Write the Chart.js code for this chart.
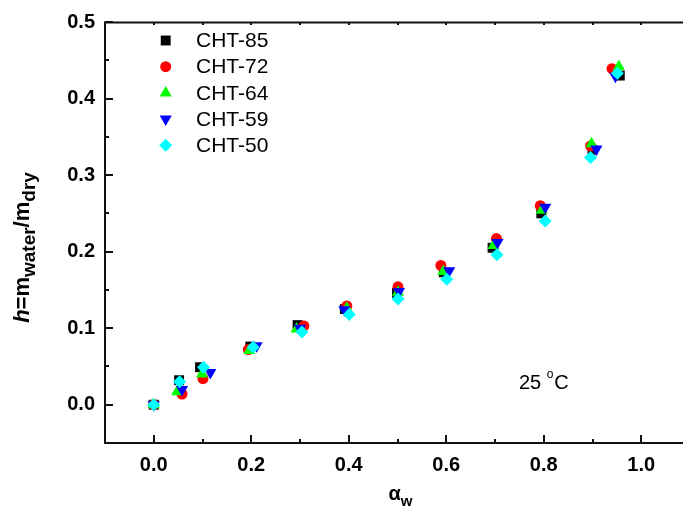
<!DOCTYPE html>
<html>
<head>
<meta charset="utf-8">
<script src="https://cdn.jsdelivr.net/npm/chart.js@4.4.0/dist/chart.umd.min.js"></script>
<style>
html, body { margin: 0; padding: 0; background: #fff; overflow: hidden; }
#wrap { width: 683px; height: 512px; overflow: hidden; }
</style>
</head>
<body>
<div id="wrap"><canvas id="chart" width="700" height="512"></canvas></div>
<script>
// water activity (x) and water uptake h (y)
const aw85 = [0, 0.052, 0.095, 0.198, 0.295, 0.392, 0.499, 0.595, 0.695, 0.795, 0.900, 0.956];
const h85  = [0, 0.032, 0.049, 0.076, 0.104, 0.125, 0.146, 0.173, 0.205, 0.250, 0.333, 0.430];
const aw72 = [0, 0.058, 0.101, 0.194, 0.308, 0.396, 0.501, 0.589, 0.703, 0.793, 0.896, 0.940];
const h72  = [0, 0.014, 0.034, 0.072, 0.103, 0.129, 0.154, 0.182, 0.217, 0.260, 0.338, 0.439];
const aw64 = [0, 0.048, 0.099, 0.196, 0.293, 0.396, 0.501, 0.594, 0.697, 0.796, 0.898, 0.954];
const h64  = [0, 0.017, 0.040, 0.071, 0.099, 0.126, 0.147, 0.174, 0.208, 0.254, 0.341, 0.442];
const aw59 = [0, 0.058, 0.116, 0.211, 0.300, 0.391, 0.503, 0.606, 0.705, 0.803, 0.908, 0.947];
const h59  = [0, 0.020, 0.042, 0.077, 0.100, 0.124, 0.148, 0.175, 0.212, 0.258, 0.334, 0.429];
const aw50 = [0, 0.053, 0.102, 0.204, 0.304, 0.401, 0.501, 0.601, 0.704, 0.803, 0.896, 0.951];
const h50  = [0, 0.030, 0.049, 0.075, 0.095, 0.118, 0.138, 0.164, 0.196, 0.240, 0.323, 0.433];

const labels = ['CHT-85', 'CHT-72', 'CHT-64', 'CHT-59', 'CHT-50'];
const xRange = [-0.1, 1.1];
const yRange = [-0.05, 0.5];
const tempNote = { x: 0.749, y: 0.020 };

const FONT = '"Liberation Sans", Arial, sans-serif';

const series = [
    { label: labels[0], xs: aw85, ys: h85, style: 'rect', rot: 0, r: 7, color: '#000000' },
    { label: labels[1], xs: aw72, ys: h72, style: 'circle', rot: 0, r: 5.5, color: '#ff0000' },
    { label: labels[2], xs: aw64, ys: h64, style: 'triangle', rot: 0, r: 7, color: '#00ff00' },
    { label: labels[3], xs: aw59, ys: h59, style: 'triangle', rot: 180, r: 7, color: '#0000ff' },
    { label: labels[4], xs: aw50, ys: h50, style: 'rectRot', rot: 0, r: 6.5, color: '#00ffff' }
];

function drawMarker(ctx, s, x, y) {
    ctx.fillStyle = s.color;
    Chart.helpers.drawPoint(ctx, { pointStyle: s.style, rotation: s.rot, radius: s.r, borderWidth: 0 }, x, y);
}

// box, inward ticks
const framePlugin = {
    id: 'frame',
    beforeDatasetsDraw(chart) {
        const { ctx, chartArea: a, scales } = chart;
        ctx.save();
        ctx.strokeStyle = '#111';
        ctx.lineWidth = 2;
        ctx.strokeRect(a.left, a.top + 0.5, a.right - a.left, a.bottom - a.top - 0.5);
        ctx.beginPath();
        scales.y.ticks.forEach(t => {
            const k = Math.round(t.value * 100);
            const len = k % 10 === 0 ? 8 : 4;
            const py = Math.round(scales.y.getPixelForValue(t.value));
            ctx.moveTo(a.left, py);
            ctx.lineTo(a.left + len, py);
        });
        scales.x.ticks.forEach(t => {
            const k = Math.round(t.value * 10);
            const len = k % 2 === 0 ? 8 : 4;
            const px = Math.round(scales.x.getPixelForValue(t.value));
            ctx.moveTo(px, a.bottom);
            ctx.lineTo(px, a.bottom - len);
            ctx.moveTo(px, a.top);
            ctx.lineTo(px, a.top + 3);
        });
        ctx.stroke();
        ctx.restore();
    }
};

// legend, titles and the temperature note
const textPlugin = {
    id: 'texts',
    afterDraw(chart) {
        const { ctx, chartArea: a, scales } = chart;
        ctx.save();

        // legend
        series.forEach((s, i) => {
            const y = a.top + 18.5 + i * 26.2;
            drawMarker(ctx, s, a.left + 60.7, y);
            ctx.fillStyle = '#000';
            ctx.font = '21px ' + FONT;
            ctx.textBaseline = 'middle';
            ctx.textAlign = 'left';
            ctx.fillText(s.label, a.left + 91, y + 1);
        });

        // 25 °C
        const nx = scales.x.getPixelForValue(tempNote.x);
        const ny = scales.y.getPixelForValue(tempNote.y);
        ctx.textBaseline = 'alphabetic';
        ctx.font = '20px ' + FONT;
        ctx.fillText('25', nx, ny);
        let w = ctx.measureText('25 ').width;
        ctx.font = '12px ' + FONT;
        ctx.fillText('o', nx + w, ny - 11);
        w += ctx.measureText('o').width + 1;
        ctx.font = '20px ' + FONT;
        ctx.fillText('C', nx + w, ny);

        // x title: alpha_w
        const cx = (scales.x.getPixelForValue(0) + scales.x.getPixelForValue(1)) / 2 + 3;
        ctx.font = 'bold 20px ' + FONT;
        const aW = ctx.measureText('\u03b1').width;
        ctx.font = 'bold 15px ' + FONT;
        const wW = ctx.measureText('w').width;
        let sx = cx - (aW + wW) / 2;
        ctx.font = 'bold 20px ' + FONT;
        ctx.fillText('\u03b1', sx, 500);
        ctx.font = 'bold 15px ' + FONT;
        ctx.fillText('w', sx + aW, 506);

        // y title: h = m_water / m_dry
        const parts = [
            { t: 'h', f: 'italic bold 22px ' + FONT, dy: 0 },
            { t: '=m', f: 'bold 22px ' + FONT, dy: 0 },
            { t: 'water', f: 'bold 19px ' + FONT, dy: 6 },
            { t: '/m', f: 'bold 22px ' + FONT, dy: 0 },
            { t: 'dry', f: 'bold 19px ' + FONT, dy: 6 }
        ];
        let total = 0;
        parts.forEach(p => { ctx.font = p.f; p.w = ctx.measureText(p.t).width; total += p.w; });
        ctx.translate(28.5, 247.5);
        ctx.rotate(-Math.PI / 2);
        let px = -total / 2;
        parts.forEach(p => {
            ctx.font = p.f;
            ctx.fillText(p.t, px, p.dy);
            px += p.w;
        });
        ctx.restore();
    }
};

const datasets = series.map((s, i) => ({
    label: s.label,
    data: s.xs.map((x, j) => ({ x: x, y: s.ys[j] })),
    pointStyle: s.style,
    rotation: s.rot,
    pointRadius: s.r,
    pointHoverRadius: s.r,
    backgroundColor: s.color,
    borderColor: s.color,
    borderWidth: 0,
    showLine: false,
    order: series.length - 1 - i
}));

new Chart(document.getElementById('chart'), {
    type: 'scatter',
    data: { datasets: datasets },
    options: {
        responsive: false,
        animation: false,
        devicePixelRatio: 1,
        layout: { padding: { top: 16, right: 10, left: 0, bottom: 0 } },
        plugins: { legend: { display: false }, tooltip: { enabled: false } },
        scales: {
            x: {
                type: 'linear',
                min: xRange[0],
                max: xRange[1],
                afterFit: s => { s.height = 69; },
                grid: { display: false, drawTicks: false },
                border: { display: false },
                ticks: {
                    stepSize: 0.1,
                    autoSkip: false,
                    maxRotation: 0,
                    padding: 10,
                    color: '#000',
                    font: { family: FONT, size: 20, weight: 'bold' },
                    callback: v => {
                        const k = Math.round(v * 10);
                        return (k % 2 === 0 && k >= 0 && k <= 10) ? (k / 10).toFixed(1) : '';
                    }
                }
            },
            y: {
                type: 'linear',
                min: yRange[0],
                max: yRange[1],
                afterFit: s => { s.width = 105; },
                grid: { display: false, drawTicks: false },
                border: { display: false },
                ticks: {
                    stepSize: 0.05,
                    autoSkip: false,
                    padding: 10,
                    color: '#000',
                    font: { family: FONT, size: 20, weight: 'bold' },
                    callback: v => {
                        const k = Math.round(v * 100);
                        return (k % 10 === 0 && k >= 0) ? (k / 100).toFixed(1) : '';
                    }
                }
            }
        }
    },
    plugins: [framePlugin, textPlugin]
});
</script>
</body>
</html>
